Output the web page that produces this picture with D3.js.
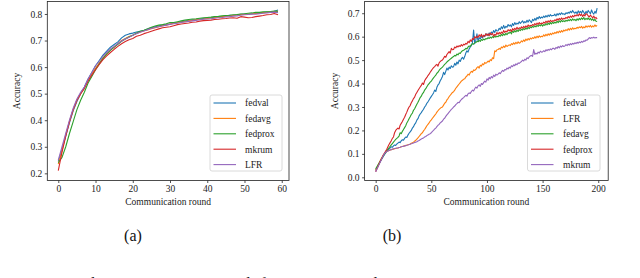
<!DOCTYPE html>
<html>
<head>
<meta charset="utf-8">
<script src="https://cdn.jsdelivr.net/npm/d3@7"></script>
<style>
  body { margin: 0; background: #fff; overflow: hidden; }
  svg { display: block; }
</style>
</head>
<body>
<div class="graph_container"></div>
<script>
const w = 640;
const h = 278;
const serif = "'Liberation Serif', 'Times New Roman', Times, 'DejaVu Serif', serif";

// ---- panel (a): 60 rounds ----
const roundsA = d3.range(60);
const namesA = ["fedval", "fedavg", "fedprox", "mkrum", "LFR"];
const ticksAX = [0, 10, 20, 30, 40, 50, 60];
const ticksAY = [0.2, 0.3, 0.4, 0.5, 0.6, 0.7, 0.8];

const fedvalA = [0.245,0.29,0.34,0.39,0.435,0.47,0.50,0.525,0.555,0.58,0.605,0.625,0.645,0.66,0.675,0.685,0.695,0.71,0.72,0.725,
  0.728,0.732,0.735,0.738,0.743,0.748,0.752,0.755,0.758,0.76,0.762,0.766,0.768,0.771,0.773,0.776,0.778,0.779,0.781,0.783,
  0.785,0.786,0.788,0.789,0.79,0.793,0.795,0.794,0.797,0.799,0.8,0.798,0.801,0.803,0.802,0.805,0.807,0.806,0.81,0.815];
const fedavgA = [0.235,0.285,0.345,0.395,0.44,0.475,0.50,0.52,0.55,0.575,0.595,0.615,0.635,0.65,0.665,0.675,0.688,0.70,0.708,0.715,
  0.72,0.727,0.732,0.737,0.74,0.745,0.748,0.752,0.756,0.758,0.762,0.764,0.767,0.77,0.771,0.774,0.776,0.778,0.78,0.781,
  0.783,0.785,0.786,0.788,0.79,0.792,0.793,0.795,0.796,0.798,0.799,0.8,0.801,0.803,0.804,0.805,0.806,0.808,0.809,0.81];
const fedproxA = [0.24,0.26,0.30,0.35,0.395,0.44,0.475,0.505,0.54,0.565,0.59,0.612,0.632,0.65,0.663,0.675,0.686,0.697,0.706,0.713,
  0.72,0.728,0.735,0.739,0.744,0.75,0.755,0.758,0.76,0.763,0.768,0.768,0.771,0.774,0.777,0.779,0.781,0.782,0.784,0.786,
  0.787,0.788,0.79,0.791,0.793,0.794,0.795,0.797,0.798,0.8,0.801,0.803,0.804,0.806,0.806,0.808,0.808,0.809,0.811,0.81];
const mkrumA = [0.21,0.28,0.34,0.395,0.44,0.475,0.50,0.52,0.548,0.57,0.59,0.61,0.628,0.642,0.655,0.667,0.678,0.688,0.696,0.703,
  0.708,0.716,0.72,0.726,0.73,0.735,0.74,0.744,0.748,0.75,0.752,0.756,0.76,0.762,0.764,0.766,0.769,0.77,0.773,0.775,
  0.776,0.777,0.779,0.78,0.782,0.783,0.785,0.786,0.784,0.79,0.788,0.786,0.787,0.79,0.792,0.794,0.797,0.798,0.802,0.797];
const lfrA = [0.25,0.30,0.35,0.40,0.445,0.48,0.505,0.525,0.555,0.58,0.605,0.622,0.64,0.655,0.668,0.678,0.689,0.698,0.706,0.712,
  0.72,0.726,0.731,0.736,0.741,0.745,0.749,0.752,0.755,0.758,0.761,0.763,0.765,0.768,0.77,0.772,0.774,0.776,0.778,0.78,
  0.781,0.782,0.784,0.786,0.787,0.789,0.79,0.792,0.793,0.795,0.797,0.798,0.8,0.799,0.801,0.803,0.804,0.806,0.807,0.805];

// ---- panel (b): 200 rounds ----
const roundsB = d3.range(200);
const namesB = ["fedval", "LFR", "fedavg", "fedprox", "mkrum"];
const ticksBX = [0, 50, 100, 150, 200];
const ticksBY = [0.0, 0.1, 0.2, 0.3, 0.4, 0.5, 0.6, 0.7];

const fedvalB = [0.030,0.040,0.048,0.057,0.066,0.074,0.082,0.090,0.097,0.104,
  0.110,0.116,0.121,0.125,0.130,0.128,0.134,0.138,0.136,0.142,
  0.146,0.150,0.148,0.156,0.160,0.158,0.166,0.172,0.170,0.180,
  0.188,0.194,0.200,0.210,0.216,0.226,0.232,0.244,0.250,0.262,
  0.270,0.276,0.284,0.290,0.300,0.306,0.316,0.322,0.330,0.338,
  0.345,0.352,0.360,0.372,0.366,0.384,0.394,0.400,0.412,0.420,
  0.430,0.448,0.438,0.452,0.466,0.458,0.470,0.464,0.476,0.470,
  0.472,0.486,0.478,0.492,0.484,0.500,0.494,0.506,0.512,0.504,
  0.515,0.530,0.540,0.534,0.548,0.556,0.562,0.575,0.628,0.570,
  0.585,0.612,0.580,0.596,0.590,0.602,0.594,0.606,0.600,0.612,
  0.610,0.604,0.616,0.608,0.620,0.614,0.626,0.618,0.630,0.624,
  0.625,0.636,0.630,0.642,0.634,0.648,0.636,0.644,0.640,0.652,
  0.645,0.650,0.642,0.656,0.648,0.660,0.652,0.658,0.654,0.664,
  0.656,0.662,0.668,0.658,0.664,0.660,0.670,0.662,0.672,0.666,
  0.660,0.674,0.668,0.678,0.670,0.682,0.676,0.686,0.678,0.684,
  0.680,0.688,0.682,0.690,0.684,0.692,0.686,0.694,0.688,0.690,
  0.690,0.696,0.688,0.698,0.692,0.700,0.694,0.702,0.696,0.698,
  0.694,0.702,0.698,0.704,0.700,0.708,0.702,0.712,0.704,0.700,
  0.706,0.698,0.710,0.702,0.708,0.700,0.712,0.704,0.696,0.708,
  0.700,0.712,0.704,0.698,0.714,0.702,0.696,0.708,0.700,0.722];
const lfrB = [0.030,0.040,0.050,0.060,0.070,0.080,0.088,0.096,0.102,0.107,
  0.110,0.112,0.114,0.116,0.118,0.119,0.120,0.122,0.123,0.124,
  0.125,0.127,0.128,0.130,0.131,0.133,0.134,0.136,0.137,0.139,
  0.140,0.142,0.145,0.147,0.150,0.154,0.158,0.163,0.168,0.174,
  0.180,0.186,0.190,0.198,0.204,0.212,0.220,0.226,0.232,0.240,
  0.245,0.252,0.258,0.264,0.270,0.278,0.284,0.290,0.294,0.298,
  0.300,0.308,0.316,0.320,0.330,0.336,0.344,0.350,0.356,0.362,
  0.365,0.372,0.380,0.386,0.392,0.398,0.404,0.410,0.414,0.418,
  0.420,0.428,0.432,0.440,0.436,0.446,0.452,0.448,0.458,0.456,
  0.460,0.468,0.472,0.466,0.478,0.474,0.484,0.480,0.490,0.486,
  0.490,0.496,0.492,0.502,0.498,0.510,0.506,0.540,0.536,0.544,
  0.545,0.550,0.546,0.556,0.552,0.560,0.554,0.564,0.558,0.562,
  0.565,0.562,0.570,0.566,0.574,0.568,0.576,0.570,0.578,0.572,
  0.575,0.582,0.578,0.586,0.580,0.590,0.584,0.592,0.586,0.594,
  0.590,0.596,0.592,0.600,0.594,0.602,0.596,0.604,0.598,0.602,
  0.600,0.608,0.602,0.610,0.604,0.612,0.606,0.614,0.608,0.616,
  0.612,0.618,0.614,0.622,0.616,0.624,0.618,0.626,0.620,0.628,
  0.624,0.630,0.626,0.634,0.628,0.636,0.630,0.638,0.632,0.636,
  0.634,0.640,0.636,0.642,0.638,0.644,0.636,0.642,0.638,0.646,
  0.640,0.646,0.642,0.648,0.640,0.646,0.642,0.650,0.644,0.648];
const fedavgB = [0.036,0.044,0.052,0.060,0.068,0.076,0.084,0.092,0.100,0.108,
  0.115,0.120,0.126,0.132,0.138,0.144,0.150,0.156,0.162,0.166,
  0.170,0.176,0.190,0.186,0.196,0.204,0.212,0.220,0.232,0.240,
  0.250,0.258,0.268,0.274,0.286,0.292,0.302,0.312,0.320,0.330,
  0.340,0.346,0.356,0.362,0.372,0.378,0.386,0.394,0.400,0.406,
  0.410,0.418,0.424,0.430,0.436,0.444,0.448,0.456,0.462,0.466,
  0.470,0.476,0.482,0.486,0.492,0.496,0.500,0.504,0.508,0.512,
  0.515,0.520,0.518,0.526,0.522,0.530,0.528,0.536,0.540,0.542,
  0.545,0.550,0.548,0.556,0.560,0.558,0.566,0.570,0.568,0.574,
  0.575,0.580,0.578,0.584,0.580,0.588,0.584,0.590,0.586,0.592,
  0.590,0.596,0.592,0.598,0.594,0.600,0.596,0.604,0.598,0.602,
  0.600,0.606,0.602,0.610,0.604,0.612,0.606,0.614,0.608,0.616,
  0.615,0.620,0.612,0.624,0.618,0.626,0.620,0.628,0.622,0.630,
  0.626,0.632,0.628,0.634,0.630,0.638,0.632,0.640,0.634,0.642,
  0.638,0.644,0.640,0.646,0.642,0.648,0.644,0.650,0.646,0.652,
  0.645,0.652,0.648,0.656,0.650,0.658,0.652,0.660,0.654,0.662,
  0.656,0.662,0.658,0.666,0.660,0.668,0.662,0.670,0.664,0.668,
  0.664,0.670,0.666,0.672,0.668,0.674,0.668,0.676,0.670,0.674,
  0.668,0.676,0.670,0.678,0.672,0.680,0.674,0.682,0.672,0.678,
  0.674,0.680,0.672,0.678,0.670,0.676,0.668,0.674,0.666,0.665];
const fedproxB = [0.024,0.034,0.045,0.056,0.066,0.076,0.086,0.096,0.104,0.112,
  0.120,0.130,0.140,0.148,0.156,0.166,0.172,0.190,0.200,0.205,
  0.210,0.206,0.222,0.230,0.238,0.248,0.256,0.268,0.278,0.290,
  0.300,0.306,0.318,0.326,0.336,0.342,0.354,0.362,0.370,0.378,
  0.385,0.392,0.402,0.396,0.412,0.420,0.426,0.434,0.440,0.448,
  0.455,0.462,0.468,0.472,0.478,0.482,0.474,0.488,0.494,0.498,
  0.500,0.508,0.516,0.512,0.524,0.530,0.536,0.530,0.550,0.544,
  0.545,0.556,0.552,0.560,0.556,0.562,0.558,0.566,0.560,0.568,
  0.565,0.572,0.568,0.580,0.574,0.586,0.580,0.592,0.588,0.600,
  0.595,0.602,0.596,0.608,0.600,0.610,0.598,0.606,0.602,0.612,
  0.605,0.612,0.604,0.616,0.608,0.614,0.602,0.610,0.606,0.618,
  0.610,0.618,0.612,0.620,0.614,0.626,0.618,0.624,0.620,0.630,
  0.625,0.630,0.622,0.634,0.628,0.636,0.630,0.640,0.632,0.638,
  0.634,0.642,0.636,0.644,0.638,0.646,0.640,0.650,0.644,0.648,
  0.646,0.652,0.648,0.656,0.650,0.658,0.652,0.660,0.654,0.658,
  0.655,0.662,0.658,0.666,0.660,0.668,0.662,0.670,0.664,0.668,
  0.666,0.672,0.668,0.676,0.670,0.678,0.672,0.680,0.674,0.678,
  0.676,0.682,0.678,0.686,0.680,0.688,0.682,0.690,0.684,0.692,
  0.688,0.694,0.688,0.698,0.690,0.696,0.686,0.694,0.688,0.698,
  0.695,0.688,0.684,0.692,0.686,0.680,0.688,0.678,0.682,0.675];
const mkrumB = [0.024,0.034,0.044,0.054,0.064,0.074,0.084,0.094,0.102,0.107,
  0.110,0.112,0.114,0.116,0.118,0.120,0.122,0.123,0.124,0.125,
  0.125,0.127,0.128,0.130,0.131,0.132,0.134,0.135,0.137,0.138,
  0.140,0.141,0.143,0.144,0.146,0.148,0.150,0.152,0.155,0.157,
  0.160,0.163,0.166,0.168,0.172,0.174,0.178,0.180,0.184,0.186,
  0.190,0.196,0.200,0.206,0.210,0.216,0.222,0.226,0.232,0.236,
  0.240,0.248,0.252,0.260,0.266,0.272,0.278,0.284,0.290,0.294,
  0.300,0.304,0.310,0.314,0.320,0.318,0.326,0.332,0.336,0.340,
  0.345,0.350,0.346,0.356,0.360,0.358,0.366,0.372,0.368,0.378,
  0.385,0.380,0.390,0.394,0.388,0.400,0.396,0.404,0.410,0.406,
  0.420,0.414,0.426,0.420,0.430,0.424,0.436,0.430,0.440,0.436,
  0.440,0.446,0.442,0.450,0.456,0.452,0.460,0.458,0.466,0.462,
  0.470,0.466,0.476,0.472,0.480,0.476,0.484,0.480,0.488,0.486,
  0.490,0.494,0.500,0.496,0.504,0.500,0.510,0.506,0.514,0.518,
  0.520,0.516,0.545,0.524,0.530,0.526,0.534,0.530,0.538,0.534,
  0.535,0.540,0.536,0.544,0.540,0.546,0.542,0.548,0.544,0.550,
  0.550,0.546,0.554,0.550,0.558,0.552,0.560,0.556,0.562,0.558,
  0.560,0.566,0.562,0.568,0.564,0.570,0.566,0.572,0.568,0.574,
  0.570,0.576,0.572,0.578,0.574,0.580,0.576,0.582,0.580,0.586,
  0.585,0.590,0.596,0.592,0.596,0.594,0.598,0.594,0.596,0.596];

const colors = ["#1f77b4", "#ff7f0e", "#2ca02c", "#d62728", "#9467bd"];

const svg = d3.select(".graph_container").append("svg").attr("width", w).attr("height", h)
  .attr("font-family", serif);

function drawPanel(cfg) {
  var xScale = d3.scaleLinear().domain(cfg.xDomain).range(cfg.xRange);
  var yScale = d3.scaleLinear().domain(cfg.yDomain).range([180.5, 1.5]);
  var g = svg.append("g");

  var line = d3.line().x((d, i) => xScale(cfg.rounds[i])).y(d => yScale(d));

  g.selectAll("path.series")
    .data(cfg.series)
    .enter()
    .append("path")
    .attr("class", "series")
    .attr("d", d => line(d))
    .attr("fill", "none")
    .attr("stroke", (d, i) => colors[i])
    .attr("stroke-width", 1.1)
    .attr("stroke-linejoin", "round");

  // frame
  g.append("rect")
    .attr("x", cfg.xRange[0])
    .attr("y", 1.5)
    .attr("width", cfg.xRange[1] - cfg.xRange[0])
    .attr("height", 179)
    .attr("fill", "none")
    .attr("stroke", "#222")
    .attr("stroke-width", 0.8);

  var xAxis = d3.axisBottom(xScale).tickValues(cfg.xTicks).tickSize(2.5).tickPadding(2).tickFormat(d3.format("d"));
  var gx = g.append("g").attr("transform", "translate(0,180.5)").call(xAxis);
  var yAxis = d3.axisLeft(yScale).tickValues(cfg.yTicks).tickSize(2.5).tickPadding(2.5).tickFormat(d3.format(".1f"));
  var gy = g.append("g").attr("transform", "translate(" + cfg.xRange[0] + ",0)").call(yAxis);
  [gx, gy].forEach(a => {
    a.attr("font-family", serif);
    a.select(".domain").remove();
    a.selectAll("line").attr("stroke", "#222").attr("stroke-width", 0.8);
    a.selectAll("text").style("font-size", "9.5px").style("font-family", serif).attr("fill", "#222");
  });

  var mid = (cfg.xRange[0] + cfg.xRange[1]) / 2;
  g.append("text")
    .attr("x", mid).attr("y", 204.5)
    .attr("text-anchor", "middle")
    .style("font-size", "9.5px")
    .style("font-family", serif)
    .attr("fill", "#222")
    .text("Communication round");

  g.append("text")
    .attr("transform", "translate(" + cfg.yLabelX + ",91) rotate(-90)")
    .attr("text-anchor", "middle")
    .style("font-size", "9.5px")
    .style("font-family", serif)
    .attr("fill", "#222")
    .text("Accuracy");

  g.append("text")
    .attr("x", cfg.capX).attr("y", 241)
    .attr("text-anchor", "middle")
    .style("font-size", "16px")
    .style("font-family", serif)
    .attr("fill", "#111")
    .text(cfg.caption);

  // legend
  var lg = g.append("g").attr("transform", "translate(" + cfg.legend[0] + ",95)");
  lg.append("rect")
    .attr("width", cfg.legend[1]).attr("height", 76)
    .attr("rx", 2)
    .attr("fill", "#fff").attr("fill-opacity", 0.8)
    .attr("stroke", "#d0d0d0").attr("stroke-width", 0.8);

  var item = lg.selectAll(".legend-label")
    .data(cfg.names)
    .enter()
    .append("g")
    .attr("class", "legend-label")
    .attr("transform", (d, i) => "translate(0," + (8 + i * 15.4) + ")");
  item.append("line")
    .attr("x1", 3.5).attr("x2", 26)
    .attr("stroke", (d, i) => colors[i]).attr("stroke-width", 1.1);
  item.append("text")
    .attr("x", cfg.legendText).attr("dy", "0.35em")
    .style("font-size", "9.5px")
    .style("font-family", serif)
    .attr("fill", "#222")
    .text(d => d);
}

drawPanel({
  rounds: roundsA, series: [fedvalA, fedavgA, fedproxA, mkrumA, lfrA], names: namesA,
  xDomain: [-2.95, 61.95], xRange: [47.3, 289], yDomain: [0.173, 0.847],
  xTicks: ticksAX, yTicks: ticksAY, yLabelX: 20, capX: 133, caption: "(a)",
  legend: [210, 72], legendText: 35
});

drawPanel({
  rounds: roundsB, series: [fedvalB, lfrB, fedavgB, fedproxB, mkrumB], names: namesB,
  xDomain: [-9.95, 208.95], xRange: [364.6, 608.2], yDomain: [-0.0137, 0.750],
  xTicks: ticksBX, yTicks: ticksBY, yLabelX: 338, capX: 392, caption: "(b)",
  legend: [527.5, 72.5], legendText: 35.5
});

// figure caption, cut by the bottom edge as in the source figure
svg.append("text")
  .attr("x", 0).attr("y", 289)
  .style("font-size", "16px")
  .style("font-family", serif)
  .attr("fill", "#111")
  .text("Figure 4: Reading accuracy over rounds for CIFAR-10 and FEMNIST");
</script>
</body>
</html>
